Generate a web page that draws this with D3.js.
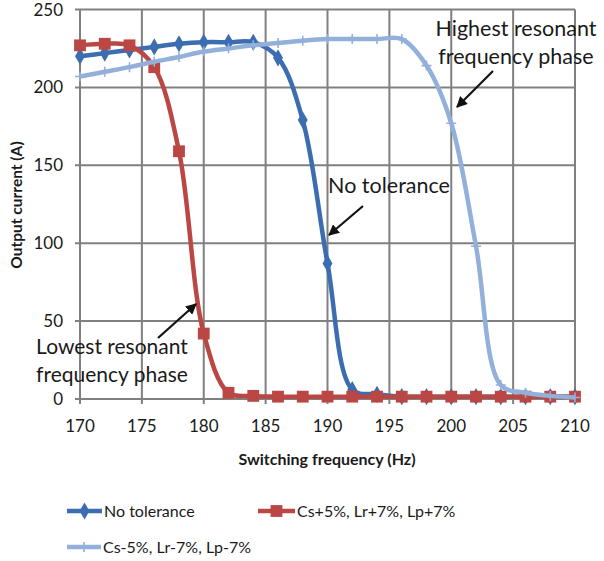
<!DOCTYPE html>
<html><head><meta charset="utf-8">
<script src="https://cdn.jsdelivr.net/npm/d3@7"></script>
<style>
body{margin:0;background:#fff;}
text{font-family:Lato,"Open Sans",sans-serif;fill:#1a1a1a;}
</style></head>
<body><svg id="c" width="604" height="561"></svg>
<script>
const freqs = [170,172,174,176,178,180,182,184,186,188,190,192,194,196,198,200,202,204,206,208,210];
const noTol = [220,222,224,226,228,229,229,229,219,179,87,6,3,1.5,1.5,1.5,1.5,1.5,1.5,1.5,1.5];
const plusTol = [227,228,227,213,159,42,4,2,1.5,1.5,1.5,1.5,1.5,1.5,1.5,1.5,1.5,1.5,1.5,1.5,1.5];
const minusTol = [207,210,213,216.5,219.5,223,225,227,228.5,230,231,231,231,231,214,177,98,9,4,2,1];
const xTicks = [170,175,180,185,190,195,200,205,210];
const yTicks = [0,50,100,150,200,250];
const seriesNames = ["No tolerance","Cs+5%, Lr+7%, Lp+7%","Cs-5%, Lr-7%, Lp-7%"];
const colors = ["#3b6db0","#bb4744","#92b0da"];

const svg = d3.select("#c");
const x = d3.scaleLinear().domain([170,210]).range([80,575]);
const y = d3.scaleLinear().domain([0,250]).range([399,9.5]);

// grid
const g = svg.append("g");
g.selectAll(".vg").data(xTicks).join("line")
  .attr("x1",d=>x(d)).attr("x2",d=>x(d)).attr("y1",y(250)).attr("y2",y(0)+5)
  .attr("stroke","#808080").attr("stroke-width",2);
g.selectAll(".hg").data(yTicks).join("line")
  .attr("x1",x(170)-5).attr("x2",x(210)).attr("y1",d=>y(d)).attr("y2",d=>y(d))
  .attr("stroke","#808080").attr("stroke-width",2);

// axes labels
svg.selectAll(".yl").data(yTicks).join("text")
  .attr("x",63).attr("y",d=>y(d)+6).attr("text-anchor","end")
  .attr("font-size",17).text(d=>d);
svg.selectAll(".xl").data(xTicks).join("text")
  .attr("x",d=>x(d)).attr("y",432).attr("text-anchor","middle")
  .attr("font-size",17).text(d=>d);
svg.append("text").attr("x",327).attr("y",465).attr("text-anchor","middle")
  .attr("font-size",16).attr("font-weight","bold").text("Switching frequency (Hz)");
svg.append("text").attr("transform","translate(22,205) rotate(-90)").attr("text-anchor","middle")
  .attr("font-size",15.5).attr("font-weight","bold").text("Output current (A)");

// series
const data = [noTol, plusTol, minusTol];
const line = d3.line().x((d,i)=>x(freqs[i])).y(d=>y(d)).curve(d3.curveCatmullRom.alpha(0.5));
const diamond = d3.symbol().type(d3.symbolDiamond).size(85)();
const square = d3.symbol().type(d3.symbolSquare).size(140)();
const plus = "M-5,0H5M0,-5V5";
function marker(sel, k, col){
  if(k===0) sel.append("path").attr("d",diamond).attr("fill",col);
  else if(k===1) sel.append("path").attr("d",square).attr("fill",col);
  else sel.append("path").attr("d",plus).attr("stroke",col).attr("stroke-width",1.6).attr("fill","none");
}
data.forEach((vals,k)=>{
  const s = svg.append("g");
  s.append("path").attr("d",line(vals)).attr("fill","none").attr("stroke",colors[k])
    .attr("stroke-width",4.5).attr("stroke-linejoin","round");
  vals.forEach((v,i)=>{
    const m = s.append("g").attr("transform",`translate(${x(freqs[i])},${y(v)})`);
    marker(m,k,colors[k]);
  });
});

// annotations
svg.append("defs").append("marker").attr("id","ah").attr("viewBox","0 0 10 10")
  .attr("refX",9).attr("refY",5).attr("markerWidth",5).attr("markerHeight",5)
  .attr("orient","auto").append("path").attr("d","M0,0L10,5L0,10z").attr("fill","#111");
function arrow(x1,y1,x2,y2){
  svg.append("line").attr("x1",x1).attr("y1",y1).attr("x2",x2).attr("y2",y2)
    .attr("stroke","#111").attr("stroke-width",2.2).attr("marker-end","url(#ah)");
}
function label(lines, cx, y0, fs){
  lines.forEach((t,i)=>{
    svg.append("text").attr("x",cx).attr("y",y0+i*28).attr("text-anchor","middle")
      .attr("font-size",fs).text(t);
  });
}
label(["Highest resonant","frequency phase"],516,36,21.5);
arrow(493,71,457,107);
label(["No tolerance"],389,193,21.5);
arrow(363,206,329,235);
label(["Lowest resonant","frequency phase"],112,354,21);
arrow(158,338,196,304);

// legend
const leg = [[67,511],[258,511],[67,547]];
leg.forEach((p,k)=>{
  const lg = svg.append("g");
  const x2 = k===2 ? 101 : (k===0 ? 102 : 295);
  lg.append("line").attr("x1",p[0]).attr("x2",x2).attr("y1",p[1]).attr("y2",p[1])
    .attr("stroke",colors[k]).attr("stroke-width",4.5);
  const m = lg.append("g").attr("transform",`translate(${(p[0]+x2)/2},${p[1]})`);
  marker(m,k,colors[k]);
  lg.append("text").attr("x",x2+2).attr("y",p[1]+5.5).attr("font-size",16).text(seriesNames[k]);
});
</script></body></html>
